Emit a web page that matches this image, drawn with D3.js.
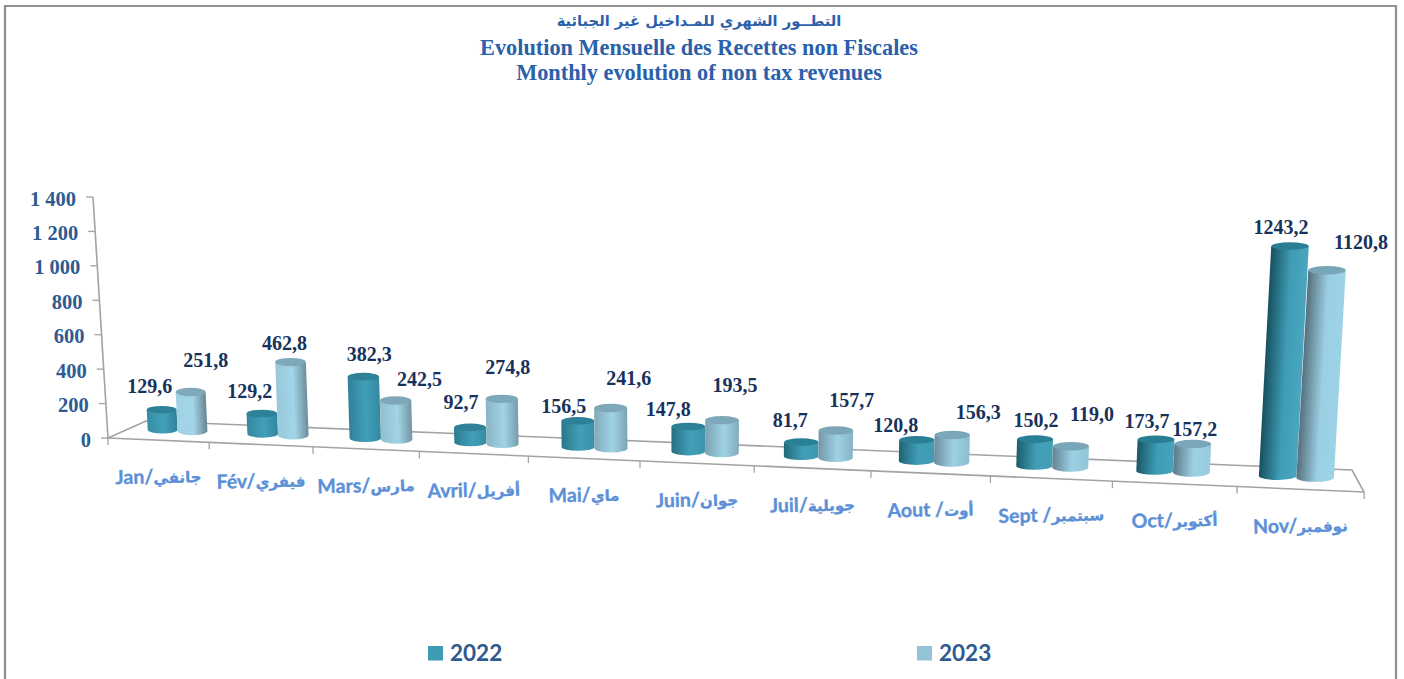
<!DOCTYPE html>
<html>
<head>
<meta charset="utf-8">
<script src="https://cdn.jsdelivr.net/npm/d3@7"></script>
<style>
    body { margin:0; background:#fff; }
    svg { display:block; }
</style>
</head>
<body>
<div id="chart"></div>
<script>

var monthsLatin = ["Jan/","Fév/","Mars/","Avril/","Mai/","Juin/","Juil/","Aout /","Sept /","Oct/","Nov/"];
var monthsArabic = ["جانفي","فيفري","مارس","أفريل","ماي","جوان","جويلية","أوت","سبتمبر","أكتوبر","نوفمبر"];
var values2022 = [129.6,129.2,382.3,92.7,156.5,147.8,81.7,120.8,150.2,173.7,1243.2];
var values2023 = [251.8,462.8,242.5,274.8,241.6,193.5,157.7,156.3,119.0,157.2,1120.8];
var valueTicks = [0,200,400,600,800,1000,1200,1400];
var seriesNames = ["2022","2023"];
var titleLines = [
    "التطــور الشهري  للمـداخيل غير الجبائية",
    "Evolution Mensuelle des Recettes non Fiscales",
    "Monthly evolution of non tax revenues"
];

//hand placed data labels, offset from the top of each bar
var labelOffset2022 = [[-12,-21],[-12,-20],[6,-20],[-9,-23],[-14,-13],[-20,-15],[-11,-20],[-21,-12],[1,-17],[-9,-16],[-9,-17]];
var labelOffset2023 = [[15,-29],[-6,-16],[24,-19],[6,-29],[18,-27],[13,-32],[16,-28],[26,-20],[21,-29],[2,-12],[34,-26]];

var width = 1404, height = 679;
var serif = "'Liberation Serif','Times New Roman',serif";
var sans = "Lato,'DejaVu Sans',sans-serif";

var svg = d3.select("#chart").append("svg")
    .attr("width", width)
    .attr("height", height);
var defs = svg.append("defs");

//the source is a soft, scanned looking picture
defs.append("filter")
    .attr("id", "soft")
    .append("feGaussianBlur")
    .attr("stdDeviation", 0.5);

var locale = d3.formatLocale({decimal:",", thousands:" ", grouping:[3], currency:["",""]});
var formatValue = locale.format(".1f");
var formatTick = locale.format(",d");

//**************************************************************************
//** Frame
//**************************************************************************
svg.append("path")
    .attr("d", d3.line()([[5,height],[5,6],[1396,6],[1396,height]]))
    .attr("fill", "none")
    .attr("stroke", "#8f8f8f")
    .attr("stroke-width", 2.2);

//**************************************************************************
//** Title
//**************************************************************************
svg.selectAll(".title")
    .data(titleLines)
    .enter()
    .append("text")
    .attr("x", 699)
    .attr("y", function(d,i){ return [26,55,80][i]; })
    .attr("text-anchor", "middle")
    .attr("font-family", function(d,i){ return i===0 ? "'DejaVu Sans',sans-serif" : serif; })
    .attr("font-size", function(d,i){ return i===0 ? 14.7 : 22.3; })
    .attr("font-weight", "bold")
    .attr("fill", "#2b60aa")
    .text(function(d){ return d; });

//**************************************************************************
//** Scales
//**************************************************************************
var stepScale = d3.scaleLinear().domain([0,10]).range([101.2,127.2]);
var tickX = [108].concat(Array.from(d3.cumsum(d3.range(11).map(stepScale)), function(d){ return 108+d; }));
var floorX = d3.scaleLinear().domain(d3.range(12)).range(tickX);
var frontY = d3.scaleLinear().domain([108,1364]).range([438,492]);
var backY = d3.scaleLinear().domain([146,1352]).range([421,470]);
var depthX = d3.scaleLinear().domain([108,1364]).range([20,-5.5]);
var baseOffset = d3.scaleLinear().domain([108,1364]).range([-10.5,-12.3]);
var unitHeight = d3.scaleLinear().domain([0,10]).range([0.155,0.185]);
var leanScale = d3.scaleLinear().domain([0,1000]).range([-0.065,0.028]);
var wallY = d3.scaleLinear().domain([0,1400]).range([438,197]);
var wallX = d3.scaleLinear().domain([0,1400]).range([108,93]);

//**************************************************************************
//** Walls and floor
//**************************************************************************
var axisArea = svg.append("g")
    .attr("fill", "none")
    .attr("stroke", "#a3a3a3");

axisArea.append("path")
    .attr("stroke-width", 1.6)
    .attr("d", d3.line()([[wallX(1400),wallY(1400)],[wallX(0),wallY(0)],[146,backY(146)],[1352,backY(1352)],[1364,frontY(1364)]]));
axisArea.append("path")
    .attr("stroke-width", 1.6)
    .attr("d", d3.line()([[108,frontY(108)],[1364,frontY(1364)]]));

axisArea.selectAll(".wallTick")
    .data(valueTicks)
    .enter()
    .append("line")
    .attr("x1", function(d){ return wallX(d)-7; })
    .attr("x2", function(d){ return wallX(d); })
    .attr("y1", function(d){ return wallY(d); })
    .attr("y2", function(d){ return wallY(d); })
    .attr("stroke-width", 1.3);

axisArea.selectAll(".floorTick")
    .data(tickX)
    .enter()
    .append("line")
    .attr("x1", function(d){ return d; })
    .attr("x2", function(d){ return d; })
    .attr("y1", function(d){ return frontY(d); })
    .attr("y2", function(d){ return frontY(d)+7; })
    .attr("stroke-width", 1.3);

svg.selectAll(".wallLabel")
    .data(valueTicks)
    .enter()
    .append("text")
    .attr("x", function(d){ return wallX(d)-17; })
    .attr("y", function(d){ return wallY(d); })
    .attr("dy", "0.42em")
    .attr("text-anchor", "end")
    .attr("font-family", serif)
    .attr("font-weight", "bold")
    .attr("font-size", 20.5)
    .attr("fill", "#2e5b91")
    .text(function(d){ return formatTick(d); });

//**************************************************************************
//** Bars
//**************************************************************************
var darkRamp = {
    left: d3.interpolateRgb("#348fa6", "#17505f"),
    mid: d3.interpolateRgb("#42a0b8", "#3f9db6"),
    right: d3.interpolateRgb("#2d8298", "#4aa6be"),
    top: d3.interpolateRgb("#2f8297", "#2a7e94")
};
var lightRamp = {
    left: d3.interpolateRgb("#a0d2e4", "#566f7d"),
    mid: d3.interpolateRgb("#a2d5e7", "#9bd0e4"),
    right: d3.interpolateRgb("#678593", "#9dd3e7"),
    top: d3.interpolateRgb("#7fa9b9", "#78a6b8")
};

var bars = [];
values2022.forEach(function(v,i){
    var mid = (floorX(i)+floorX(i+1))/2;
    var center = mid + depthX(mid);
    var w = (floorX(i+1)-floorX(i))*0.295;
    var rows = [
        {value:v, s:0, ramp:darkRamp, cx:center-w/2, ry:3.8, offset:labelOffset2022[i]},
        {value:values2023[i], s:1, ramp:lightRamp, cx:center+w/2, ry:4.2, offset:labelOffset2023[i]}
    ];
    rows.forEach(function(b){
        b.i = i;
        b.w = w;
        b.by = frontY(b.cx)+baseOffset(b.cx);
        b.h = d3.scaleLinear().domain([0,1400]).range([0,1400*unitHeight(i)])(b.value);
        b.dx = leanScale(b.cx)*b.h;
        b.ty = b.by-b.h;
        bars.push(b);
    });
});

var barArea = svg.append("g")
    .attr("filter", "url(#soft)");

bars.forEach(function(b){
    var id = "bar"+b.s+"_"+b.i;
    var t = b.i/10;
    var xl = b.cx-b.w/2, xr = b.cx+b.w/2;
    var grad = defs.append("linearGradient")
        .attr("id", id)
        .attr("gradientUnits", "userSpaceOnUse")
        .attr("x1", xl).attr("y1", b.by)
        .attr("x2", xr).attr("y2", b.by+b.w*b.dx/b.h);
    [[0,"left"],[0.55,"mid"],[1,"right"]].forEach(function(s){
        grad.append("stop")
            .attr("offset", s[0])
            .attr("stop-color", b.ramp[s[1]](t));
    });

    barArea.append("path")
        .attr("d", "M"+xl+","+b.by+
            "L"+(xl+b.dx)+","+b.ty+
            "L"+(xr+b.dx)+","+b.ty+
            "L"+xr+","+b.by+
            "A"+(b.w/2)+","+b.ry+" 0 0 1 "+xl+","+b.by+"Z")
        .attr("fill", "url(#"+id+")");

    barArea.append("ellipse")
        .attr("cx", b.cx+b.dx)
        .attr("cy", b.ty)
        .attr("rx", b.w/2)
        .attr("ry", b.ry)
        .attr("fill", b.ramp.top(t));
});

//**************************************************************************
//** Data labels
//**************************************************************************
svg.selectAll(".dataLabel")
    .data(bars)
    .enter()
    .append("text")
    .attr("x", function(b){ return b.cx+b.dx+b.offset[0]; })
    .attr("y", function(b){ return b.ty-b.ry+b.offset[1]; })
    .attr("dy", "0.42em")
    .attr("text-anchor", "middle")
    .attr("font-family", serif)
    .attr("font-weight", "bold")
    .attr("font-size", 20)
    .attr("fill", "#17335c")
    .text(function(b){ return formatValue(b.value); });

//**************************************************************************
//** Month labels
//**************************************************************************
var monthLabels = svg.selectAll(".monthLabel")
    .data(monthsLatin)
    .enter()
    .append("text")
    .attr("transform", function(d,i){
        var mid = (floorX(i)+floorX(i+1))/2;
        return "translate("+mid+","+(frontY(mid)+43)+") rotate(-1.5)";
    })
    .attr("direction", "ltr")
    .attr("text-anchor", "middle")
    .attr("font-family", sans)
    .attr("font-weight", "bold")
    .attr("font-size", 19.5)
    .attr("fill", "#5b90d8")
    .attr("stroke", "#5b90d8")
    .attr("stroke-width", 0.35);
monthLabels.append("tspan")
    .text(function(d){ return d; });
monthLabels.append("tspan")
    .attr("font-size", 15)
    .text(function(d,i){ return monthsArabic[i]; });

//**************************************************************************
//** Legend
//**************************************************************************
var legend = svg.selectAll(".legendItem")
    .data(seriesNames)
    .enter()
    .append("g")
    .attr("transform", function(d,i){ return "translate("+[428,917][i]+",646)"; });
legend.append("rect")
    .attr("width", 15)
    .attr("height", 14.5)
    .attr("fill", function(d,i){ return ["#3f9ab3","#93c3d6"][i]; });
legend.append("text")
    .attr("x", 22)
    .attr("y", 15)
    .attr("font-family", sans)
    .attr("font-weight", "bold")
    .attr("font-size", 22.5)
    .attr("fill", "#2f5a8f")
    .text(function(d){ return d; });

</script>
</body>
</html>
